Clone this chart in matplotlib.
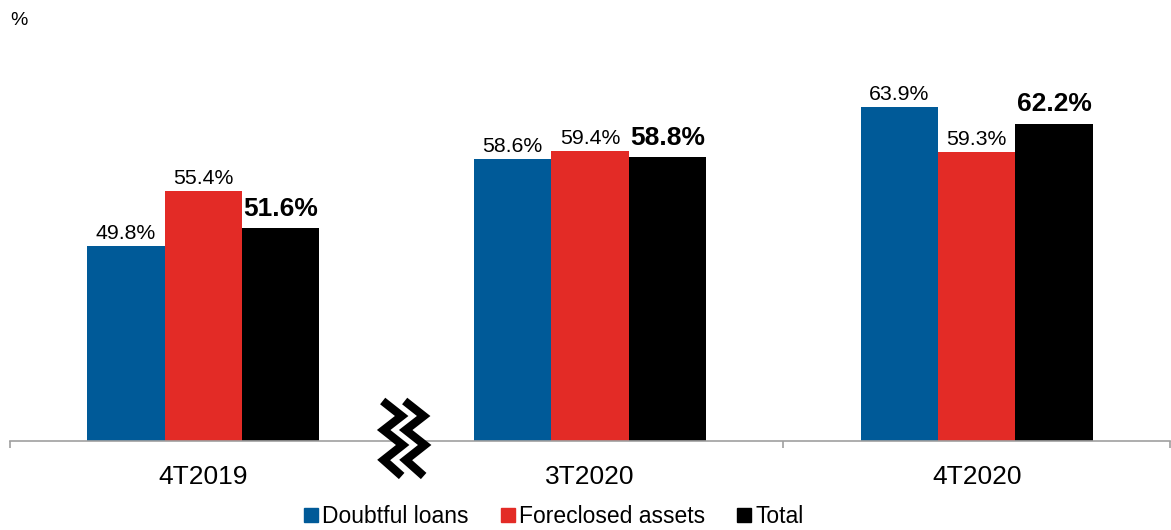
import numpy as np
import matplotlib
matplotlib.use("Agg")
import matplotlib.pyplot as plt
from matplotlib.lines import Line2D

plt.rcParams['font.family'] = ['Liberation Sans', 'DejaVu Sans']

periodos = ["4T2019", "3T2020", "4T2020"]
series = ["Doubtful loans", "Foreclosed assets", "Total"]
doubtful = [49.8, 58.6, 63.9]
foreclosed = [55.4, 59.4, 59.3]
total = [51.6, 58.8, 62.2]
colores = ["#005A98", "#E32B26", "#000000"]

fig = plt.figure(figsize=(11.71, 5.30), dpi=100)
ax = fig.add_axes([10 / 1171, 89 / 530, 1160 / 1171, 414 / 530])

x = np.arange(len(periodos))
w = 0.2
valores = [doubtful, foreclosed, total]
for i, (vals, col) in enumerate(zip(valores, colores)):
    pos = x + (i - 1) * w
    ax.bar(pos, vals, width=w, color=col, bottom=0)
    for px, v in zip(pos, vals):
        if i == 2:
            ax.annotate(f"{v:.1f}%", (px, v), xytext=(0, 9), textcoords="offset points",
                        ha="center", va="baseline", fontsize=19, fontweight="bold")
        else:
            ax.annotate(f"{v:.1f}%", (px, v), xytext=(0, 5), textcoords="offset points",
                        ha="center", va="baseline", fontsize=15.3)

ax.set_ylim(30, 72)
ax.set_xlim(-0.5, 2.5)
ax.set_yticks([])
for s in ["top", "right", "left"]:
    ax.spines[s].set_visible(False)
ax.spines["bottom"].set_color("#A0A0A0")
ax.spines["bottom"].set_linewidth(1.2)
ax.set_xticks(x)
ax.set_xticklabels(periodos, fontsize=19)
ax.tick_params(axis="x", which="major", length=0, pad=17)
ax.set_xticks([-0.5, 0.5, 1.5, 2.5], minor=True)
ax.tick_params(axis="x", which="minor", length=5, color="#A0A0A0", width=1.2)

# zigzag de corte del eje
px2d = 3 / 1160
py2d = 42 / 414
zx = np.array([383, 402, 384, 403, 384, 402]) - 397
zy = 441 - np.array([401, 416, 430, 445, 460, 476])
ax.plot(0.5 + (zx + 11) * px2d, 30 + zy * py2d, color="white", lw=9, clip_on=False,
        solid_joinstyle="miter", zorder=4)
for off in [0, 22]:
    ax.plot(0.5 + (zx + off) * px2d, 30 + zy * py2d, color="black", lw=6, clip_on=False,
            solid_joinstyle="miter", solid_capstyle="butt", zorder=5)

fig.text(10 / 1171, 1 - 25 / 530, "%", fontsize=14)

handles = [Line2D([], [], marker="s", linestyle="none", markersize=10.5, color=c) for c in colores]
fig.legend(handles, series, loc="lower center", bbox_to_anchor=(0.473, -0.035), ncol=3,
           frameon=False, fontsize=16.5, handlelength=0.6, handletextpad=0.2,
           columnspacing=1.4)

fig.savefig("out.png", dpi=100)
